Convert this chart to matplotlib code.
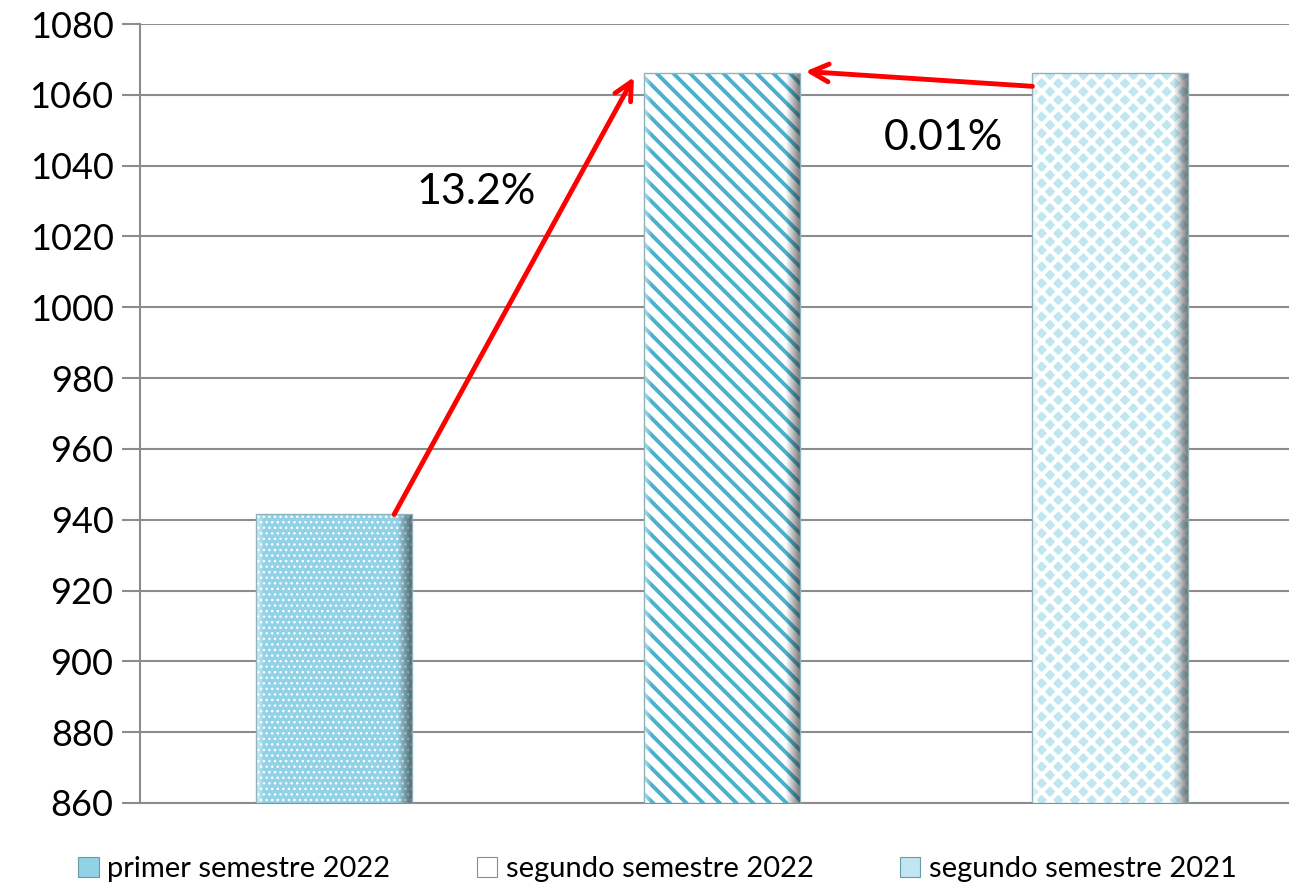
import matplotlib
matplotlib.use("Agg")
import matplotlib.pyplot as plt
from matplotlib.patches import Patch
import numpy as np

categories = ["primer semestre 2022", "segundo semestre 2022", "segundo semestre 2021"]
values = [941.5, 1066.2, 1066.1]
pct_labels = ["13.2%", "0.01%"]
yticks = list(range(860, 1081, 20))

plt.rcParams['font.family'] = ['Lato', 'DejaVu Sans']

fig = plt.figure(figsize=(12.89, 8.83), dpi=100)
ax = fig.add_axes([140/1289, (883-803)/883, 1164/1289, (803-24)/883])

faces = ['#92d2e6', 'white', '#bfe6f1']
hatch_cols = ['white', '#4ab0cc', 'white']
hatches = ['...', '\\\\', 'xx']
hatch_lws = [1.0, 2.8, 3.0]
width = 0.4
xs = list(range(len(categories)))

# bevel gradient (horizontal): light left edge, dark right edge
g = np.linspace(0, 1, 200)
col = np.zeros((1, 200, 4))
left = g < 0.05
right = g > 0.91
col[0, left, :3] = 1.0
col[0, left, 3] = 0.6 * (1 - g[left] / 0.05)
col[0, right, :3] = 0.15
col[0, right, 3] = 0.6 * ((g[right] - 0.91) / 0.09)

for i, (x, v) in enumerate(zip(xs, values)):
    with plt.rc_context({'hatch.linewidth': hatch_lws[i]}):
        bars = ax.bar(x, v - 860, bottom=860, width=width, color=faces[i], edgecolor=hatch_cols[i],
                      hatch=hatches[i], linewidth=0, zorder=3)
    b = bars[0]
    if hasattr(b, 'set_hatch_linewidth'):
        b.set_hatch_linewidth(hatch_lws[i])
    im = ax.imshow(col, extent=(x - width/2, x + width/2, 860, v), aspect='auto', zorder=3.5,
                   interpolation='bilinear')
    im.set_clip_path(b)
    ax.bar(x, v - 860, bottom=860, width=width, fill=False, edgecolor='#8fb3bd',
           linewidth=1.0, zorder=4)

ax.set_xlim(-0.5, 2.5)
ax.set_ylim(860, 1080)
ax.set_yticks(yticks)
ax.tick_params(axis='y', labelsize=26, length=13, width=1.5, color='#8c8c8c', pad=6)
ax.set_xticks([])
ax.yaxis.grid(True, color='#8c8c8c', linewidth=1.5, zorder=0)
ax.set_axisbelow(True)
for s in ['top', 'right']:
    ax.spines[s].set_visible(False)
for s in ['left', 'bottom']:
    ax.spines[s].set_color('#8c8c8c')
    ax.spines[s].set_linewidth(1.5)

# arrows
ax.annotate('', xy=(0.773, 1065.0), xytext=(0.155, values[0]),
            arrowprops=dict(arrowstyle='->', color='#ff0000', lw=3.5, mutation_scale=32,
                            shrinkA=0, shrinkB=0), zorder=6)
ax.annotate('', xy=(1.215, 1066.6), xytext=(1.80, 1062.4),
            arrowprops=dict(arrowstyle='->', color='#ff0000', lw=3.5, mutation_scale=32,
                            shrinkA=0, shrinkB=0), zorder=6)
ax.text(0.366, 1032.6, pct_labels[0], fontsize=31, ha='center', va='center', zorder=7)
ax.text(1.57, 1047.9, pct_labels[1], fontsize=31, ha='center', va='center', zorder=7)

handles = [Patch(facecolor=faces[i], edgecolor='#6a9aa8', linewidth=0.8) for i in range(3)]
leg = fig.legend(handles, categories, loc='lower left', bbox_to_anchor=(52/1289, -0.029),
                 ncol=3, frameon=False, fontsize=21, handlelength=0.7, handleheight=0.7,
                 handletextpad=0.3, columnspacing=2.95)

fig.savefig('out.png', dpi=100)
